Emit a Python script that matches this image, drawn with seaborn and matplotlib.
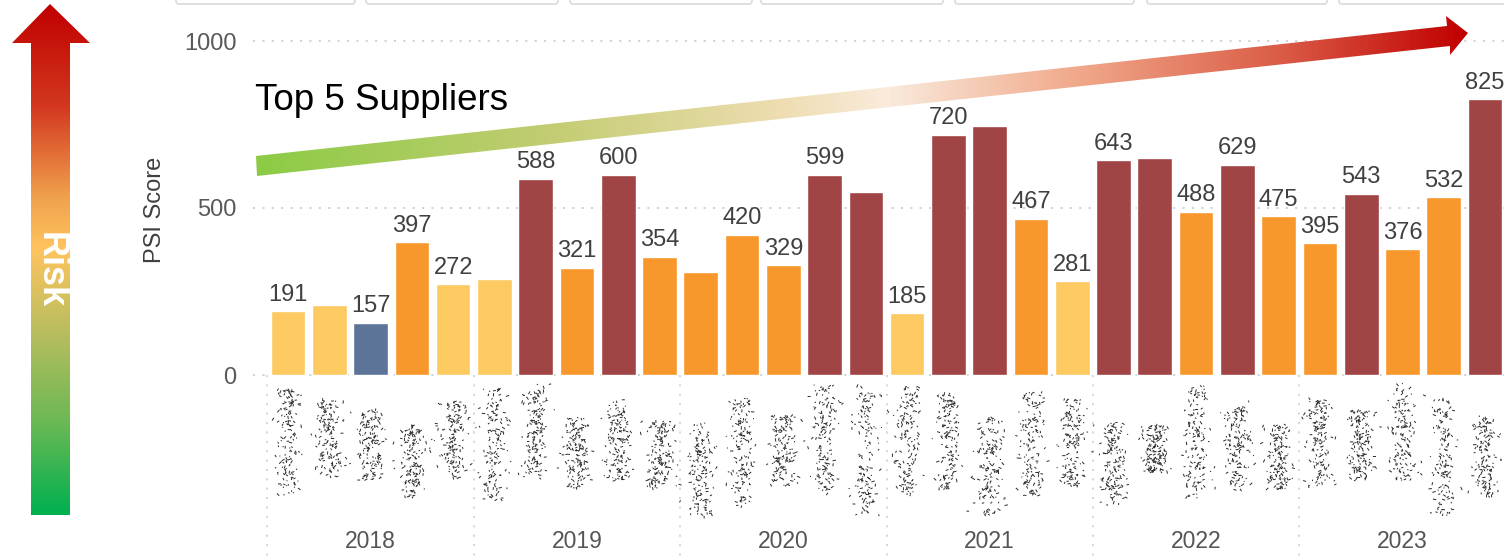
import numpy as np
import pandas as pd
import matplotlib
matplotlib.use("Agg")
import matplotlib.pyplot as plt
from matplotlib.colors import LinearSegmentedColormap
from matplotlib.patches import Polygon, FancyBboxPatch
from matplotlib.collections import LineCollection
import seaborn as sns

# ---- data -------------------------------------------------------------
years = ["2018", "2019", "2020", "2021", "2022", "2023"]
slots_per_year = 5
scores = [191, 209, 157, 397, 272,
          287, 588, 321, 600, 354,
          308, 420, 329, 599, 548,
          185, 720, 747, 467, 281,
          643, 650, 488, 629, 475,
          395, 543, 376, 532, 825]
tiers = ["Low", "Low", "Base", "Medium", "Low",
         "Low", "High", "Medium", "High", "Medium",
         "Medium", "Medium", "Medium", "High", "High",
         "Low", "High", "High", "Medium", "Low",
         "High", "High", "Medium", "High", "Medium",
         "Medium", "High", "Medium", "Medium", "High"]
labelled = [True, False, True, True, True,
            False, True, True, True, True,
            False, True, True, True, False,
            True, True, False, True, True,
            True, False, True, True, True,
            True, True, True, True, True]
y_ticks = [0, 500, 1000]

tier_colors = {"Low": "#FDC961", "Medium": "#F8972B",
               "High": "#A04445", "Base": "#5B7497"}

bar_ids = [f"{y}-{k + 1}" for y in years for k in range(slots_per_year)]
df = pd.DataFrame({"bar": bar_ids, "score": scores, "tier": tiers})

# ---- figure -------------------------------------------------------------
sns.set_theme(style="white")
plt.rcParams["font.family"] = ["Liberation Sans", "DejaVu Sans"]

W, H = 1504, 556
fig = plt.figure(figsize=(W / 100, H / 100), dpi=100)

# main axes, placed in pixel terms
ax_left, ax_right = 253, 1504
ax = fig.add_axes([ax_left / W, 0, (ax_right - ax_left) / W, 1])

sns.barplot(data=df, x="bar", y="score", hue="tier", palette=tier_colors,
            order=bar_ids, dodge=False, width=0.84, legend=False,
            saturation=1, ax=ax, zorder=3)

px_per_bar = (1485 - 288) / 29.0
ax.set_xlim(-0.5 - (267.4 - ax_left) / px_per_bar,
            29 + (ax_right - 1485) / px_per_bar)
px_per_unit = (375 - 41) / 1000.0
ax.set_ylim(-(H - 375) / px_per_unit, 375 / px_per_unit)

for s in ax.spines.values():
    s.set_visible(False)
ax.set_xticks([])
ax.set_xlabel("")
ax.set_ylabel("")
ax.set_yticks(y_ticks)
ax.set_yticklabels([str(v) for v in y_ticks])
ax.tick_params(axis="y", length=0, pad=12, labelsize=17, labelcolor="#595959")
ax.grid(False)

# dotted guides
for v in y_ticks:
    ax.axhline(v, color="#cfcfcf", lw=1.3, ls=(0, (1.2, 4)), zorder=1)
for b in range(0, len(bar_ids) + 1, slots_per_year):
    ax.plot([b - 0.5, b - 0.5], [0, ax.get_ylim()[0]], color="#d4d4d4",
            lw=1.3, ls=(0, (1.2, 4)), zorder=1, clip_on=False)

# value labels
for i, (v, show) in enumerate(zip(scores, labelled)):
    if show:
        ax.annotate(str(v), (i, v), xytext=(0, 4), textcoords="offset points",
                    ha="center", va="bottom", fontsize=17, color="#404040",
                    annotation_clip=False)

# year labels
year_y = -(541 - 375) / px_per_unit
for k, y in enumerate(years):
    ax.text(k * slots_per_year + (slots_per_year - 1) / 2, year_y, y,
            ha="center", va="center", fontsize=16.5, color="#555555")

# ---- overlay in pixel coordinates --------------------------------------
ov = fig.add_axes([0, 0, 1, 1], zorder=5)
ov.set_axis_off()

# header cells peeking in at the top edge
for x0, x1 in [(176, 355), (366, 558), (570, 752), (761, 943),
               (955, 1134), (1147, 1327), (1339, 1520)]:
    ov.add_patch(FancyBboxPatch((x0, -40), x1 - x0, 44,
                                boxstyle="round,pad=0,rounding_size=3",
                                fc="white", ec="#dcdcdc", lw=1.3))

# scribbled (redacted) supplier names under each bar
rng = np.random.default_rng(11)
segs = []
for i in range(len(bar_ids)):
    cx = 288 + i * px_per_bar
    top = 382 + rng.uniform(0, 45)
    bot = 470 + rng.uniform(0, 50)
    n = 150
    ys = rng.uniform(top, bot, n)
    xs = cx + rng.normal(0, 6.5, n)
    ang = rng.uniform(0, np.pi, n)
    ln = rng.uniform(1.0, 3.5, n)
    for x, y, a, l in zip(xs, ys, ang, ln):
        segs.append([(x - l * np.cos(a) / 2, y - l * np.sin(a) / 2),
                     (x + l * np.cos(a) / 2, y + l * np.sin(a) / 2)])
ov.add_collection(LineCollection(segs, colors="#2a2a2a", linewidths=0.7))

# trend arrow with green -> cream -> red gradient
trend_cmap = LinearSegmentedColormap.from_list(
    "trend", [(0.0, "#8CCB45"), (0.25, "#C4CD74"), (0.43, "#EEDDB0"),
              (0.52, "#FAEBDC"), (0.68, "#F0A88A"), (0.85, "#DA5A45"),
              (1.0, "#C00000")])
trend_pts = [(256, 156), (1447, 26), (1446, 16), (1468, 33),
             (1450, 55), (1450, 46), (257, 176)]
trend_poly = Polygon(trend_pts, closed=True, fc="none", ec="none")
ov.add_patch(trend_poly)
im = ov.imshow(np.linspace(0, 1, 512)[None, :], cmap=trend_cmap,
               extent=(256, 1468, 180, 10), aspect="auto", interpolation="bilinear")
im.set_clip_path(trend_poly)

# vertical risk arrow
risk_cmap = LinearSegmentedColormap.from_list(
    "risk", [(0.0, "#C00000"), (0.2, "#D3381F"), (0.38, "#F1A24E"),
             (0.48, "#FFC45E"), (0.65, "#B5BD5E"), (0.82, "#6BB954"),
             (1.0, "#00B050")])
risk_pts = [(31, 43), (12, 43), (50, 4), (90, 43), (70, 43), (70, 515), (31, 515)]
risk_poly = Polygon(risk_pts, closed=True, fc="none", ec="none")
ov.add_patch(risk_poly)
im2 = ov.imshow(np.linspace(0, 1, 512)[:, None], cmap=risk_cmap,
                extent=(10, 92, 515, 4), aspect="auto", interpolation="bilinear")
im2.set_clip_path(risk_poly)

ov.text(50, 270, "Risk", rotation=-90, ha="center", va="center",
        fontsize=26, fontweight="bold", color="white")
ov.text(255, 100, "Top 5 Suppliers", ha="left", va="center",
        fontsize=26.5, color="black")
ov.text(155, 210, "PSI Score", rotation=90, ha="center", va="center",
        fontsize=17, color="#404040")

ov.set_xlim(0, W)
ov.set_ylim(H, 0)

fig.savefig("out.png", dpi=100)
